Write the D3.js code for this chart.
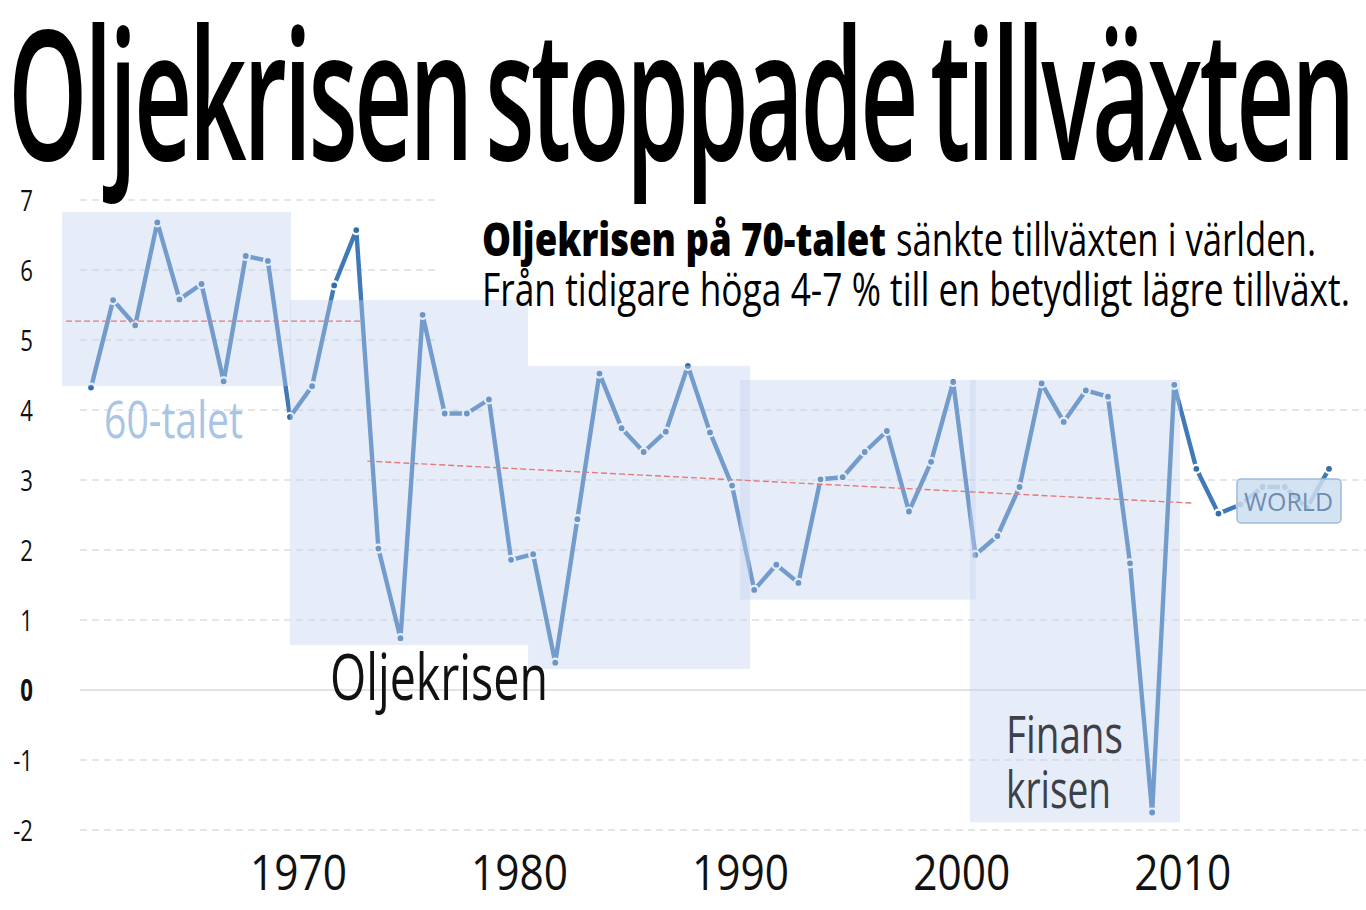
<!DOCTYPE html>
<html>
<head>
<meta charset="utf-8">
<script src="https://cdn.jsdelivr.net/npm/d3@7"></script>
<style>
    html, body { margin: 0; padding: 0; background: #fff; }
    svg { display: block; font-family: 'Open Sans', 'Noto Sans', sans-serif; }
</style>
</head>
<body>
<svg id="chart" width="1366" height="910"></svg>
<script>
// world GDP growth, annual %
var years = [1961, 1962, 1963, 1964, 1965, 1966, 1967, 1968, 1969,
    1970, 1971, 1972, 1973, 1974, 1975, 1976, 1977, 1978, 1979,
    1980, 1981, 1982, 1983, 1984, 1985, 1986, 1987, 1988, 1989,
    1990, 1991, 1992, 1993, 1994, 1995, 1996, 1997, 1998, 1999,
    2000, 2001, 2002, 2003, 2004, 2005, 2006, 2007, 2008, 2009,
    2010, 2011, 2012, 2013, 2014, 2015, 2016, 2017];
var growth = [4.32, 5.57, 5.21, 6.68, 5.58, 5.80, 4.41, 6.20, 6.13,
    3.90, 4.34, 5.78, 6.57, 2.02, 0.74, 5.36, 3.95, 3.95, 4.15,
    1.86, 1.94, 0.39, 2.44, 4.52, 3.74, 3.40, 3.69, 4.63, 3.68,
    2.92, 1.43, 1.79, 1.53, 3.01, 3.04, 3.40, 3.70, 2.55, 3.26,
    4.40, 1.93, 2.20, 2.90, 4.38, 3.83, 4.28, 4.19, 1.81, -1.75,
    4.36, 3.16, 2.52, 2.65, 2.90, 2.90, 2.60, 3.16];

var yTicks = [-2, -1, 0, 1, 2, 3, 4, 5, 6, 7];
var xTicks = [1970, 1980, 1990, 2000, 2010];

// highlighted periods (years / growth %)
var periodStart = [1959.69, 1970.0, 1980.77, 1990.36, 2000.76];
var periodEnd = [1970.05, 1980.77, 1990.81, 2001.02, 2010.26];
var periodLow = [4.34, 0.64, 0.30, 1.29, -1.89];
var periodHigh = [6.83, 5.57, 4.63, 4.43, 4.43];

// average of the 60s and trend after the oil crisis
var avg60s = [[1959.87, 5.27], [1973.25, 5.27]];
var trendAfter = [[1973.5, 3.27], [2010.8, 2.67]];

var svg = d3.select('#chart');

var x = d3.scaleLinear()
    .domain([1961, 2017])
    .range([91, 1329]);

var y = d3.scaleLinear()
    .domain([-2, 7])
    .range([830, 200]);

// grid
svg.append('g')
    .selectAll('line')
    .data(yTicks.filter(function (d) { return d !== 0; }))
    .enter()
    .append('line')
    .attr('x1', 80)
    .attr('x2', 1366)
    .attr('y1', function (d) { return y(d); })
    .attr('y2', function (d) { return y(d); })
    .attr('stroke', '#dedede')
    .attr('stroke-width', 1.4)
    .attr('stroke-dasharray', '7,5');

svg.append('line')
    .attr('x1', 80)
    .attr('x2', 1366)
    .attr('y1', y(0))
    .attr('y2', y(0))
    .attr('stroke', '#e2e2ea')
    .attr('stroke-width', 2);

// white patch behind the text
svg.append('rect')
    .attr('x', 440)
    .attr('y', 185)
    .attr('width', 926)
    .attr('height', 165)
    .attr('fill', '#fff');

// series
var line = d3.line()
    .x(function (d, i) { return x(years[i]); })
    .y(function (d) { return y(d); });

svg.append('path')
    .datum(growth)
    .attr('d', line)
    .attr('fill', 'none')
    .attr('stroke', '#3f79b7')
    .attr('stroke-width', 4.4)
    .attr('stroke-linejoin', 'round');

svg.append('g')
    .selectAll('circle')
    .data(growth)
    .enter()
    .append('circle')
    .attr('cx', function (d, i) { return x(years[i]); })
    .attr('cy', function (d) { return y(d); })
    .attr('r', 4)
    .attr('fill', '#336ea9')
    .attr('stroke', '#fff')
    .attr('stroke-width', 2.2);

// shaded periods
svg.append('g')
    .selectAll('rect')
    .data(periodStart)
    .enter()
    .append('rect')
    .attr('x', function (d) { return x(d); })
    .attr('width', function (d, i) { return x(periodEnd[i]) - x(d); })
    .attr('y', function (d, i) { return y(periodHigh[i]); })
    .attr('height', function (d, i) { return y(periodLow[i]) - y(periodHigh[i]); })
    .attr('fill', 'rgb(196,211,238)')
    .attr('fill-opacity', 0.4);

// red dashed lines
var refLine = d3.line()
    .x(function (d) { return x(d[0]); })
    .y(function (d) { return y(d[1]); });

svg.append('g')
    .selectAll('path')
    .data([avg60s, trendAfter])
    .enter()
    .append('path')
    .attr('d', refLine)
    .attr('fill', 'none')
    .attr('stroke', '#e27b7b')
    .attr('stroke-width', 1.4)
    .attr('stroke-dasharray', '6,3');

// WORLD label
svg.append('rect')
    .attr('x', 1237)
    .attr('y', 479)
    .attr('width', 104)
    .attr('height', 44)
    .attr('rx', 4)
    .attr('fill', 'rgb(205,222,240)')
    .attr('fill-opacity', 0.85)
    .attr('stroke', '#9dbbd9')
    .attr('stroke-width', 1.5);

svg.append('text')
    .attr('x', 1244)
    .attr('y', 511)
    .attr('font-size', 25)
    .attr('fill', '#6f8db3')
    .attr('textLength', 89)
    .attr('lengthAdjust', 'spacingAndGlyphs')
    .text('WORLD');

// axes
var yAxis = d3.axisLeft(y)
    .tickValues(yTicks)
    .tickSize(0)
    .tickPadding(0)
    .tickFormat(function (d) { return String(d); });

var gy = svg.append('g')
    .attr('transform', 'translate(33,0)')
    .call(yAxis)
    .attr('font-family', 'Open Sans')
    .attr('font-size', 30);

gy.select('.domain').remove();
gy.selectAll('text')
    .attr('x', 0)
    .attr('dy', '0.36em')
    .attr('fill', '#111')
    .attr('font-weight', function (d) { return d === 0 ? 'bold' : 'normal'; })
    .attr('transform', 'scale(0.74,1)');

var xAxis = d3.axisBottom(x)
    .tickValues(xTicks)
    .tickSize(0)
    .tickFormat(function (d) { return String(d); });

var gx = svg.append('g')
    .attr('transform', 'translate(8,890)')
    .call(xAxis)
    .attr('font-family', 'Open Sans')
    .attr('font-size', 49);

gx.select('.domain').remove();
gx.selectAll('text')
    .attr('y', 0)
    .attr('dy', 0)
    .attr('fill', '#111')
    .attr('textLength', 97)
    .attr('lengthAdjust', 'spacingAndGlyphs');

// titles and notes
function label(txt, px, py, size, width, color, weight) {
    return svg.append('text')
        .attr('x', px)
        .attr('y', py)
        .attr('font-size', size)
        .attr('font-weight', weight || 'normal')
        .attr('fill', color)
        .attr('textLength', width)
        .attr('lengthAdjust', 'spacingAndGlyphs')
        .text(txt);
}

label('Oljekrisen stoppade tillväxten', 8, 160, 182, 1344, '#000', 600)
    .attr('letter-spacing', -6)
    .attr('word-spacing', -14);
label('Oljekrisen på 70-talet', 482, 256, 46, 404, '#000', 800);
label('sänkte tillväxten i världen.', 896, 256, 46, 420, '#000');
label('Från tidigare höga 4-7 % till en betydligt lägre tillväxt.', 482, 306, 46, 868, '#000');
label('60-talet', 104, 438, 52, 139, '#a9c5e5');
label('Oljekrisen', 330, 700, 64, 218, '#111');
label('Finans', 1006, 753, 51, 117, '#3c4049');
label('krisen', 1006, 808, 51, 105, '#3c4049');
</script>
</body>
</html>
